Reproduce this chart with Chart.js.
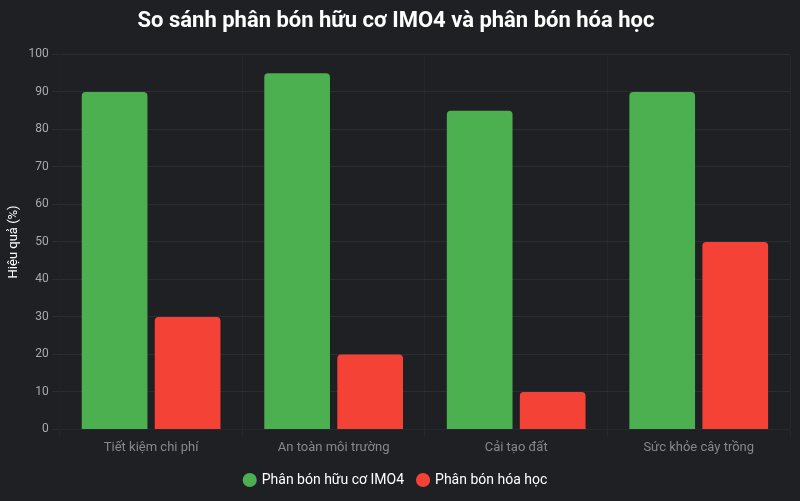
<!DOCTYPE html><html><head><meta charset="utf-8">
<script src="https://cdn.jsdelivr.net/npm/chart.js@4"></script>
<style>html,body{margin:0;background:#1f2024;}#w{width:800px;height:501px;}</style></head><body>
<div id="w"><canvas id="c"></canvas></div>
<script>
const categories=["Tiết kiệm chi phí","An toàn môi trường","Cải tạo đất","Sức khỏe cây trồng"];
const organic=[90,95,85,90];
const chemical=[30,20,10,50];
new Chart(document.getElementById('c'),{type:'bar',
data:{labels:categories,datasets:[
{label:'Phân bón hữu cơ IMO4',data:organic,backgroundColor:'#4caf50',borderRadius:4},
{label:'Phân bón hóa học',data:chemical,backgroundColor:'#f44336',borderRadius:4}]},
options:{responsive:true,maintainAspectRatio:false,animation:false,
layout:{padding:{left:2,right:10,top:0,bottom:4}},
datasets:{bar:{categoryPercentage:0.8,barPercentage:0.9}},
plugins:{title:{display:true,text:'So sánh phân bón hữu cơ IMO4 và phân bón hóa học',color:'#ffffff',font:{family:'Roboto',size:22,weight:'bold'},padding:{top:8,bottom:20}},
legend:{position:'bottom',labels:{color:'#ffffff',usePointStyle:true,pointStyle:'circle',boxWidth:10,boxHeight:10,font:{family:'Roboto',size:14},padding:14}}},
scales:{x:{ticks:{color:'#888',font:{family:'Roboto',size:13}},grid:{color:'#26272c'}},
y:{min:0,max:100,ticks:{stepSize:10,color:'#aaa',font:{family:'Roboto',size:12}},grid:{color:'#2c2d33'},
title:{display:true,text:'Hiệu quả (%)',color:'#ffffff',font:{family:'Roboto',size:13}}}}}});
</script></body></html>
